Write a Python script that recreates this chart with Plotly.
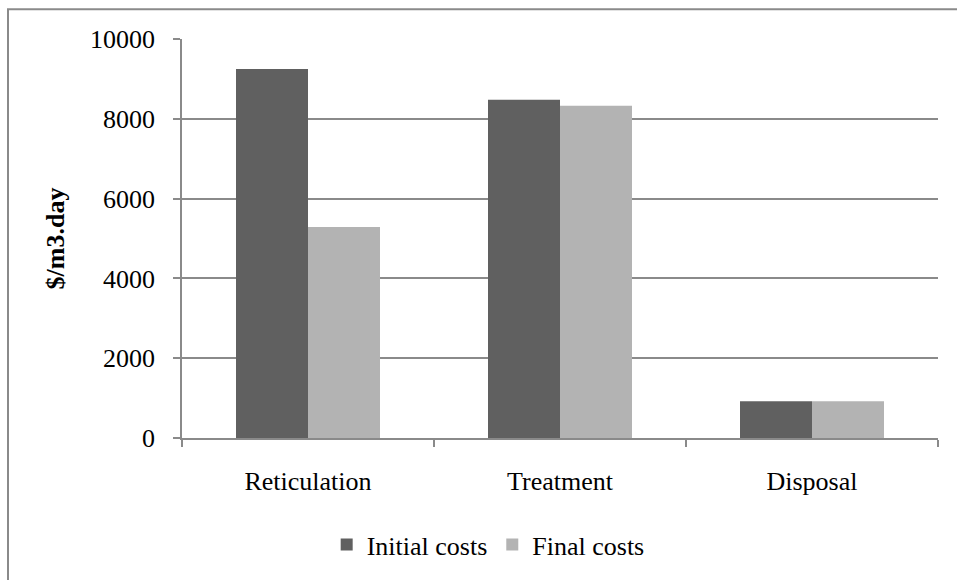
import plotly.graph_objects as go

# Cost components and their initial / final unit costs ($/m3.day)
categories = ["Reticulation", "Treatment", "Disposal"]
initial_costs = [9250, 8480, 920]
final_costs = [5290, 8330, 920]
y_ticks = [0, 2000, 4000, 6000, 8000, 10000]

FONT = "Liberation Serif"
GRID = "#8a8a8a"

fig = go.Figure()
fig.add_trace(go.Bar(x=categories, y=initial_costs, name="Initial costs",
                     marker=dict(color="#606060", line=dict(width=0))))
fig.add_trace(go.Bar(x=categories, y=final_costs, name="Final costs",
                     marker=dict(color="#b3b3b3", line=dict(width=0))))

fig.update_layout(
    width=957, height=580,
    margin=dict(l=182, r=19, t=39, b=140),
    paper_bgcolor="white", plot_bgcolor="white",
    font=dict(family=FONT, size=26, color="black"),
    barmode="group", bargap=0.4286, bargroupgap=0,
    showlegend=True,
    legend=dict(orientation="h", x=0.405, xanchor="center", y=-0.267, yanchor="middle",
                font=dict(family=FONT, size=26, color="black"), itemwidth=30,
                traceorder="normal", bgcolor="rgba(0,0,0,0)"),
    shapes=[dict(type="rect", xref="paper", yref="paper",
                 x0=(8 - 182) / 756, x1=1.2, y0=-0.5, y1=(440 - 9) / 401,
                 line=dict(color=GRID, width=2), fillcolor="rgba(0,0,0,0)",
                 layer="below")],
)

fig.update_xaxes(
    showline=True, linecolor=GRID, linewidth=1.5,
    ticks="outside", tickson="boundaries", ticklen=7, tickcolor=GRID, tickwidth=1.5,
    showgrid=False, ticklabelstandoff=19,
    tickfont=dict(family=FONT, size=26, color="black"),
)
fig.update_yaxes(
    range=[0, 10000], tickvals=y_ticks, ticktext=[str(v) for v in y_ticks],
    showline=True, linecolor=GRID, linewidth=1.5,
    ticks="outside", ticklen=7, tickcolor=GRID, tickwidth=1.5,
    showgrid=True, gridcolor=GRID, gridwidth=1.5, zeroline=False,
    ticklabelstandoff=13,
    tickfont=dict(family=FONT, size=26, color="black"),
    title=dict(text="<b>$/m3.day</b>", standoff=18,
               font=dict(family=FONT, size=26, color="black")),
)

fig.write_html("out.html")
